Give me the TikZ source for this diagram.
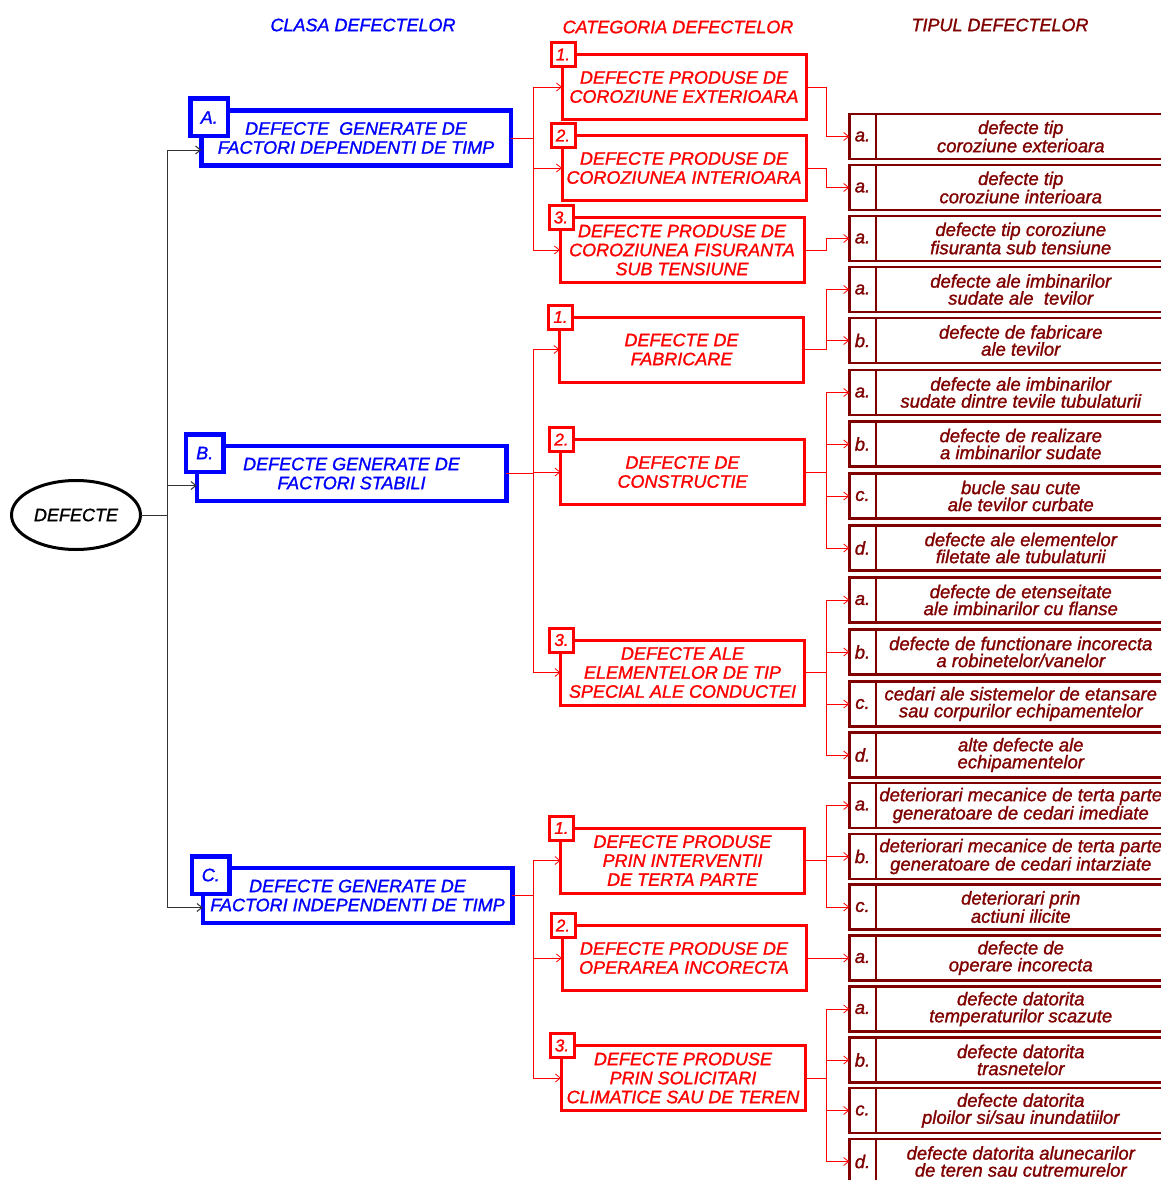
\documentclass[tikz,border=0pt]{standalone}
\usepackage{fontspec}
\setmainfont{Liberation Sans}[FakeBold=1.3]
\usetikzlibrary{shapes.geometric,arrows.meta}
\definecolor{clsblue}{RGB}{0,0,255}
\definecolor{catred}{RGB}{255,0,0}
\definecolor{typred}{RGB}{128,0,0}
\begin{document}
\begin{tikzpicture}[x=1pt,y=-1pt,>={Straight Barb[length=5pt,width=8pt]},
    every node/.style={outer sep=0pt},
    head/.style={font=\fontsize{18}{20}\selectfont\itshape},
    root/.style={draw,ellipse,line width=3pt,minimum width=129,minimum height=69,inner sep=0pt,font=\fontsize{18}{20}\selectfont\itshape},
    clsbox/.style={draw=clsblue,text=clsblue,line width=4.5pt,minimum width=309.5,minimum height=55,align=center,inner sep=1pt,font=\fontsize{18}{19}\selectfont\itshape},
    clstag/.style={draw=clsblue,text=clsblue,fill=white,line width=4.5pt,minimum size=37.5,inner sep=0pt,font=\fontsize{18}{19}\selectfont\itshape},
    catbox/.style={draw=catred,text=catred,line width=3pt,minimum width=244,minimum height=65,align=center,inner sep=1pt,font=\fontsize{18}{19}\selectfont\itshape},
    cattag/.style={draw=catred,text=catred,fill=white,line width=3pt,minimum size=24,inner sep=0pt,font=\fontsize{17}{19}\selectfont\itshape},
    typtag/.style={draw=typred,text=typred,line width=2.5pt,minimum width=26.5,minimum height=45,inner sep=0pt,font=\fontsize{18.5}{19}\selectfont\itshape},
    typbox/.style={draw=typred,text=typred,line width=2.5pt,minimum width=290,minimum height=45,anchor=west,align=center,inner sep=1pt,font=\fontsize{18.5}{17}\selectfont\itshape},
    clsline/.style={->,draw=black!80,line width=1pt},
    catline/.style={->,draw=catred,line width=0.8pt}]
  \useasboundingbox (0,0) rectangle (1160,1180);
  % headings
  \node[head,text=clsblue] (hcls) at (363,25) {CLASA DEFECTELOR};
  \node[head,text=catred] (hcat) at (678,27) {CATEGORIA DEFECTELOR};
  \node[head,text=typred] (htyp) at (1000,25) {TIPUL DEFECTELOR};
  % buses
  \coordinate (blkbus) at (167,0);
  \coordinate (redbus) at (533,0);
  \coordinate (typbus) at (826,0);
  \node[root] (root) at (76,515) {DEFECTE};
  % clasa
  \node[clsbox] (A) at (356,138) {DEFECTE\ \ GENERATE DE\\FACTORI DEPENDENTI DE TIMP};
  \node[clstag] (Atag) at ([shift={(8,7)}]A.north west) {A.};
  \node[clsbox] (B) at (351.5,473.5) {DEFECTE GENERATE DE\\FACTORI STABILI};
  \node[clstag] (Btag) at ([shift={(8,7)}]B.north west) {B.};
  \node[clsbox] (C) at (357.5,895.5) {DEFECTE GENERATE DE\\FACTORI INDEPENDENTI DE TIMP};
  \node[clstag] (Ctag) at ([shift={(8,7)}]C.north west) {C.};
  % categoria
  \node[catbox] (A1) at (684,87) {DEFECTE PRODUSE DE\\COROZIUNE EXTERIOARA};
  \node[cattag] (A1tag) at ([shift={(1,0)}]A1.north west) {1.};
  \node[catbox] (A2) at (684,168) {DEFECTE PRODUSE DE\\COROZIUNEA INTERIOARA};
  \node[cattag] (A2tag) at ([shift={(1,0)}]A2.north west) {2.};
  \node[catbox] (A3) at (682,250) {DEFECTE PRODUSE DE\\COROZIUNEA FISURANTA\\SUB TENSIUNE};
  \node[cattag] (A3tag) at ([shift={(1,0)}]A3.north west) {3.};
  \node[catbox] (B1) at (681.5,349.5) {DEFECTE DE\\FABRICARE};
  \node[cattag] (B1tag) at ([shift={(1,0)}]B1.north west) {1.};
  \node[catbox] (B2) at (682.5,472) {DEFECTE DE\\CONSTRUCTIE};
  \node[cattag] (B2tag) at ([shift={(1,0)}]B2.north west) {2.};
  \node[catbox] (B3) at (682.5,672.5) {DEFECTE ALE\\ELEMENTELOR DE TIP\\SPECIAL ALE CONDUCTEI};
  \node[cattag] (B3tag) at ([shift={(1,0)}]B3.north west) {3.};
  \node[catbox] (C1) at (682.5,860.5) {DEFECTE PRODUSE\\PRIN INTERVENTII\\DE TERTA PARTE};
  \node[cattag] (C1tag) at ([shift={(1,0)}]C1.north west) {1.};
  \node[catbox] (C2) at (684,958) {DEFECTE PRODUSE DE\\OPERAREA INCORECTA};
  \node[cattag] (C2tag) at ([shift={(1,0)}]C2.north west) {2.};
  \node[catbox] (C3) at (683,1078) {DEFECTE PRODUSE\\PRIN SOLICITARI\\CLIMATICE SAU DE TEREN};
  \node[cattag] (C3tag) at ([shift={(1,0)}]C3.north west) {3.};
  % tipul
  \node[typtag] (t1) at (862.5,136.5) {a.};
  \node[typbox] (d1) at (t1.east) {defecte tip\\coroziune exterioara};
  \node[typtag] (t2) at (862.5,187.5) {a.};
  \node[typbox] (d2) at (t2.east) {defecte tip\\coroziune interioara};
  \node[typtag] (t3) at (862.5,238.5) {a.};
  \node[typbox] (d3) at (t3.east) {defecte tip coroziune\\fisuranta sub tensiune};
  \node[typtag] (t4) at (862.5,289.5) {a.};
  \node[typbox] (d4) at (t4.east) {defecte ale imbinarilor\\sudate ale\ \ tevilor};
  \node[typtag] (t5) at (862.5,340.5) {b.};
  \node[typbox] (d5) at (t5.east) {defecte de fabricare\\ale tevilor};
  \node[typtag] (t6) at (862.5,392.5) {a.};
  \node[typbox] (d6) at (t6.east) {defecte ale imbinarilor\\sudate dintre tevile tubulaturii};
  \node[typtag] (t7) at (862.5,444) {b.};
  \node[typbox] (d7) at (t7.east) {defecte de realizare\\a imbinarilor sudate};
  \node[typtag] (t8) at (862.5,496) {c.};
  \node[typbox] (d8) at (t8.east) {bucle sau cute\\ale tevilor curbate};
  \node[typtag] (t9) at (862.5,548) {d.};
  \node[typbox] (d9) at (t9.east) {defecte ale elementelor\\filetate ale tubulaturii};
  \node[typtag] (t10) at (862.5,600) {a.};
  \node[typbox] (d10) at (t10.east) {defecte de etenseitate\\ale imbinarilor cu flanse};
  \node[typtag] (t11) at (862.5,652) {b.};
  \node[typbox] (d11) at (t11.east) {defecte de functionare incorecta\\a robinetelor/vanelor};
  \node[typtag] (t12) at (862.5,704) {c.};
  \node[typbox] (d12) at (t12.east) {cedari ale sistemelor de etansare\\sau corpurilor echipamentelor};
  \node[typtag] (t13) at (862.5,755) {d.};
  \node[typbox] (d13) at (t13.east) {alte defecte ale\\echipamentelor};
  \node[typtag] (t14) at (862.5,805.5) {a.};
  \node[typbox] (d14) at (t14.east) {deteriorari mecanice de terta parte\\generatoare de cedari imediate};
  \node[typtag] (t15) at (862.5,856.5) {b.};
  \node[typbox] (d15) at (t15.east) {deteriorari mecanice de terta parte\\generatoare de cedari intarziate};
  \node[typtag] (t16) at (862.5,907) {c.};
  \node[typbox] (d16) at (t16.east) {deteriorari prin\\actiuni ilicite};
  \node[typtag] (t17) at (862.5,958) {a.};
  \node[typbox] (d17) at (t17.east) {defecte de\\operare incorecta};
  \node[typtag] (t18) at (862.5,1009) {a.};
  \node[typbox] (d18) at (t18.east) {defecte datorita\\temperaturilor scazute};
  \node[typtag] (t19) at (862.5,1060) {b.};
  \node[typbox] (d19) at (t19.east) {defecte datorita\\trasnetelor};
  \node[typtag] (t20) at (862.5,1110.5) {c.};
  \node[typbox] (d20) at (t20.east) {defecte datorita\\ploilor si/sau inundatiilor};
  \node[typtag] (t21) at (862.5,1161.5) {d.};
  \node[typbox] (d21) at (t21.east) {defecte datorita alunecarilor\\de teren sau cutremurelor};
  % legaturi
  \draw[clsline] (root.east) -- (root.east -| blkbus) |- ([yshift=-12pt]A.west);
  \draw[clsline] (root.east) -- (root.east -| blkbus) |- ([yshift=-12pt]B.west);
  \draw[clsline] (root.east) -- (root.east -| blkbus) |- ([yshift=-12pt]C.west);
  \draw[catline] (A.east) -- (A.east -| redbus) |- (A1.west);
  \draw[catline] (A.east) -- (A.east -| redbus) |- (A2.west);
  \draw[catline] (A.east) -- (A.east -| redbus) |- (A3.west);
  \draw[catline] (B.east) -- (B.east -| redbus) |- (B1.west);
  \draw[catline] (B.east) -- (B.east -| redbus) |- (B2.west);
  \draw[catline] (B.east) -- (B.east -| redbus) |- (B3.west);
  \draw[catline] (C.east) -- (C.east -| redbus) |- (C1.west);
  \draw[catline] (C.east) -- (C.east -| redbus) |- (C2.west);
  \draw[catline] (C.east) -- (C.east -| redbus) |- (C3.west);
  \draw[catline] (A1.east) -- (A1.east -| typbus) |- (t1.west);
  \draw[catline] (A2.east) -- (A2.east -| typbus) |- (t2.west);
  \draw[catline] (A3.east) -- (A3.east -| typbus) |- (t3.west);
  \draw[catline] (B1.east) -- (B1.east -| typbus) |- (t4.west);
  \draw[catline] (B1.east) -- (B1.east -| typbus) |- (t5.west);
  \draw[catline] (B2.east) -- (B2.east -| typbus) |- (t6.west);
  \draw[catline] (B2.east) -- (B2.east -| typbus) |- (t7.west);
  \draw[catline] (B2.east) -- (B2.east -| typbus) |- (t8.west);
  \draw[catline] (B2.east) -- (B2.east -| typbus) |- (t9.west);
  \draw[catline] (B3.east) -- (B3.east -| typbus) |- (t10.west);
  \draw[catline] (B3.east) -- (B3.east -| typbus) |- (t11.west);
  \draw[catline] (B3.east) -- (B3.east -| typbus) |- (t12.west);
  \draw[catline] (B3.east) -- (B3.east -| typbus) |- (t13.west);
  \draw[catline] (C1.east) -- (C1.east -| typbus) |- (t14.west);
  \draw[catline] (C1.east) -- (C1.east -| typbus) |- (t15.west);
  \draw[catline] (C1.east) -- (C1.east -| typbus) |- (t16.west);
  \draw[catline] (C2.east) -- (C2.east -| typbus) |- (t17.west);
  \draw[catline] (C3.east) -- (C3.east -| typbus) |- (t18.west);
  \draw[catline] (C3.east) -- (C3.east -| typbus) |- (t19.west);
  \draw[catline] (C3.east) -- (C3.east -| typbus) |- (t20.west);
  \draw[catline] (C3.east) -- (C3.east -| typbus) |- (t21.west);
\end{tikzpicture}
\end{document}
